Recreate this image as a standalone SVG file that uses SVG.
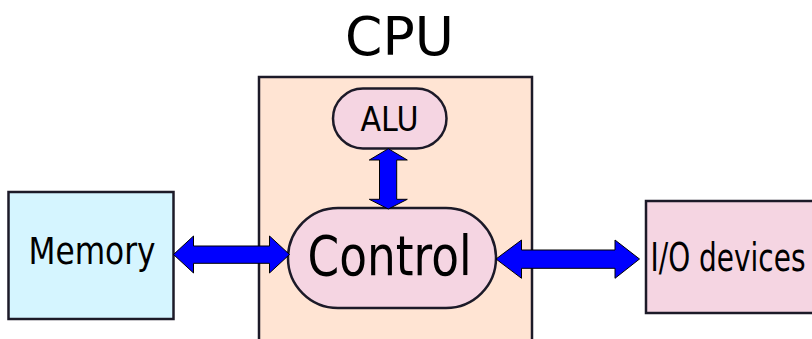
<svg xmlns="http://www.w3.org/2000/svg" width="812" height="339" viewBox="0 0 812 339">
<style>
.t{font-family:"DejaVu Sans","Noto Sans",sans-serif;fill:#000}
.box{stroke:#1c1a28;stroke-width:2.5}
.arr{fill:#0000ff;stroke:#000;stroke-width:1}
</style>
<rect width="812" height="339" fill="#fff"/>
<g id="cpu">
<rect class="box" x="259" y="77" width="273" height="280" fill="#ffe4d3" stroke-width="3"/>
<text class="t" x="399.5" y="55" font-size="53.5" text-anchor="middle">CPU</text>
</g>
<g id="memory">
<rect class="box" x="8.5" y="192" width="165" height="127" fill="#d5f5ff"/>
<text class="t" x="92" y="264" font-size="37.5" text-anchor="middle" textLength="127" lengthAdjust="spacingAndGlyphs">Memory</text>
</g>
<g id="io">
<rect class="box" x="646" y="201" width="180" height="112" fill="#f5d5e2"/>
<text class="t" x="650.5" y="270.7" font-size="38.5" textLength="155" lengthAdjust="spacingAndGlyphs">I/O devices</text>
</g>
<g id="alu">
<rect class="box" x="333" y="88.5" width="113.5" height="60" rx="30" fill="#f5d5e2" stroke-width="1.5"/>
<text class="t" x="389.5" y="130.7" font-size="33" text-anchor="middle" textLength="58" lengthAdjust="spacingAndGlyphs">ALU</text>
</g>
<g id="control">
<rect class="box" x="288" y="208" width="208" height="100" rx="50" fill="#f5d5e2" stroke-width="2"/>
<text class="t" x="389.5" y="275" font-size="55" text-anchor="middle" textLength="164" lengthAdjust="spacingAndGlyphs">Control</text>
</g>
<g id="connectors">
<polygon class="arr" points="173.5,254.5 193.5,236 193.5,246 269.5,246 269.5,236 289.5,254.5 269.5,273 269.5,263.3 193.5,263.3 193.5,273"/>
<polygon class="arr" points="496,259 521.5,240 521.5,250 615,250 615,240 639.5,259 615,278.3 615,268.3 521.5,268.3 521.5,278.3"/>
<polygon class="arr" points="388.3,148.7 407.3,160 396.7,160 396.7,199.3 407.3,199.3 388.3,209 369.3,199.3 379.5,199.3 379.5,160 369.3,160"/>
</g>
</svg>
